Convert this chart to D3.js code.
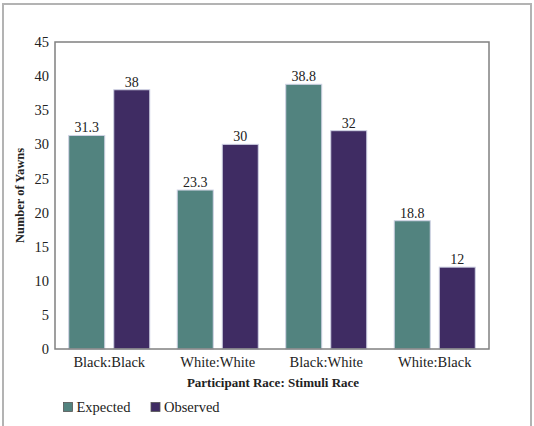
<!DOCTYPE html>
<html>
<head>
<meta charset="utf-8">
<script src="https://cdn.jsdelivr.net/npm/d3@7"></script>
<style>
  body { margin: 0; background: #fff; }
</style>
</head>
<body>
<div id="idChart"></div>
<script>
var categories = ["Black:Black", "White:White", "Black:White", "White:Black"];
var seriesNames = ["Expected", "Observed"];
var expectedValues = [31.3, 23.3, 38.8, 18.8];
var observedValues = [38, 30, 32, 12];
var yTicks = [0, 5, 10, 15, 20, 25, 30, 35, 40, 45];
var seriesColors = ["#52837f", "#3f2c63"];

var sFont = "'Liberation Serif', 'Times New Roman', 'DejaVu Serif', serif";

var iWidth = 534, iHeight = 426;
var margin = {top: 42, right: 45, bottom: 77, left: 55};

var svg = d3.select("#idChart").append("svg")
    .attr("width", iWidth).attr("height", iHeight)
    .style("font-family", sFont);

// outer frame
svg.append("rect")
    .attr("x", 3).attr("y", 4)
    .attr("width", 528).attr("height", 440)
    .attr("fill", "none").attr("stroke", "#b3b3b3").attr("stroke-width", 2);

var x0 = d3.scaleBand()
    .domain(categories)
    .range([margin.left, iWidth - margin.right])
    .padding(0);

var x1 = d3.scaleBand()
    .domain(seriesNames)
    .range([0, x0.bandwidth()])
    .paddingInner(0.2)
    .paddingOuter(0.305);

var y = d3.scaleLinear()
    .domain([0, 45])
    .range([iHeight - margin.bottom, margin.top]);

var rows = categories.map(function(c, i) {
    return {cat: c, values: [
        {name: seriesNames[0], value: expectedValues[i]},
        {name: seriesNames[1], value: observedValues[i]}
    ]};
});

var color = d3.scaleOrdinal().domain(seriesNames).range(seriesColors);

// bars
var groups = svg.selectAll("g.grp")
    .data(rows)
    .enter().append("g")
    .attr("class", "grp")
    .attr("transform", function(d) { return "translate(" + x0(d.cat) + ",0)"; });

groups.selectAll("rect")
    .data(function(d) { return d.values; })
    .enter().append("rect")
    .attr("x", function(d) { return x1(d.name); })
    .attr("y", function(d) { return y(d.value); })
    .attr("width", x1.bandwidth())
    .attr("height", function(d) { return y(0) - y(d.value); })
    .attr("fill", function(d) { return color(d.name); })
    .attr("stroke", "#cfd2e4")
    .attr("stroke-width", 1);

groups.selectAll("text.val")
    .data(function(d) { return d.values; })
    .enter().append("text")
    .attr("class", "val")
    .attr("x", function(d) { return x1(d.name) + x1.bandwidth() / 2; })
    .attr("y", function(d) { return y(d.value) - 3; })
    .attr("text-anchor", "middle")
    .attr("fill", "#222")
    .style("font-family", sFont)
    .style("font-size", "14px")
    .text(function(d) { return d.value; });

// plot frame
var xL = margin.left, xR = iWidth - margin.right;
svg.append("rect")
    .attr("x", xL).attr("y", y(45))
    .attr("width", xR - xL).attr("height", y(0) - y(45))
    .attr("fill", "none").attr("stroke", "#808080").attr("stroke-width", 1.5);

// axes
var yAxis = d3.axisLeft(y).tickValues(yTicks).tickSize(0).tickPadding(6);
var gy = svg.append("g")
    .attr("transform", "translate(" + margin.left + ",0)")
    .call(yAxis);
gy.attr("font-family", null);
gy.select(".domain").remove();
gy.selectAll("text")
    .style("font-family", sFont)
    .style("font-size", "14.5px")
    .attr("fill", "#222");

var xAxis = d3.axisBottom(x0).tickSize(0).tickPadding(8);
var gx = svg.append("g")
    .attr("transform", "translate(0," + y(0) + ")")
    .call(xAxis);
gx.attr("font-family", null);
gx.select(".domain").remove();
gx.selectAll("text")
    .style("font-family", sFont)
    .style("font-size", "14.5px")
    .attr("fill", "#222");

// axis titles
svg.append("text")
    .attr("transform", "translate(24," + ((y(0) + y(45)) / 2) + ") rotate(-90)")
    .attr("text-anchor", "middle")
    .attr("fill", "#222")
    .style("font-family", sFont)
    .style("font-size", "12.5px")
    .style("font-weight", "bold")
    .text("Number of Yawns");

svg.append("text")
    .attr("x", 273).attr("y", 387)
    .attr("text-anchor", "middle")
    .attr("fill", "#222")
    .style("font-family", sFont)
    .style("font-size", "13px")
    .style("font-weight", "bold")
    .text("Participant Race: Stimuli Race");

// legend
var legendX = [63.5, 151];
var legend = svg.selectAll("g.leg")
    .data(seriesNames)
    .enter().append("g")
    .attr("class", "leg")
    .attr("transform", function(d, i) { return "translate(" + legendX[i] + ",402.5)"; });

legend.append("rect")
    .attr("width", 9).attr("height", 9)
    .attr("fill", function(d) { return color(d); })
    .attr("stroke", "#555").attr("stroke-width", 0.8);

legend.append("text")
    .attr("x", 13).attr("y", 9.5)
    .attr("fill", "#222")
    .style("font-family", sFont)
    .style("font-size", "14.5px")
    .text(function(d) { return d; });
</script>
</body>
</html>
